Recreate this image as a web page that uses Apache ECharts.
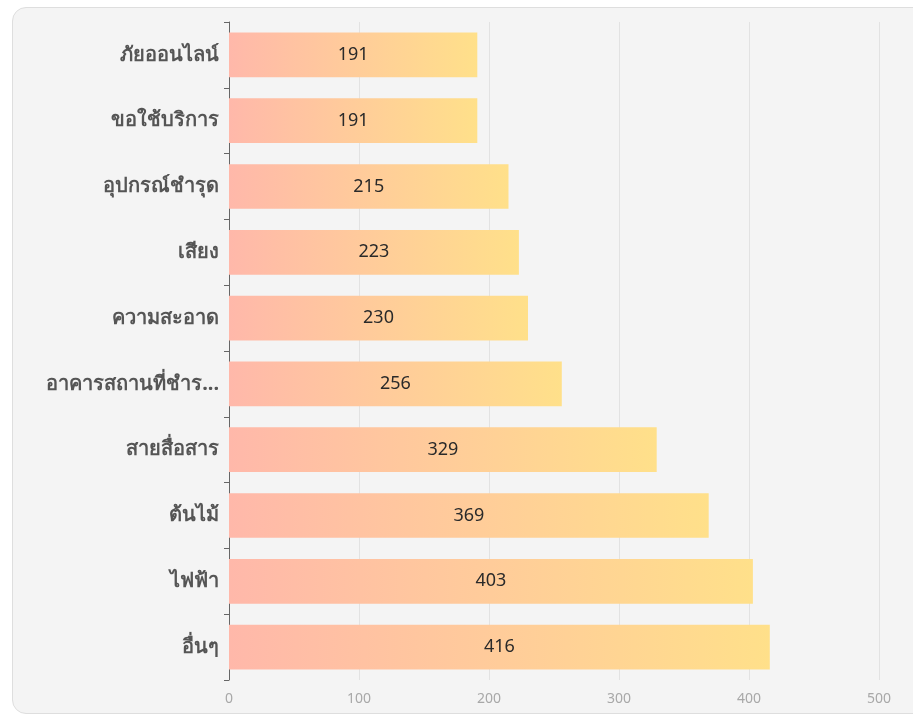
<!DOCTYPE html>
<html><head><meta charset="utf-8">
<script src="https://cdn.jsdelivr.net/npm/echarts@6/dist/echarts.min.js"></script>
<style>
html,body{margin:0;padding:0;background:#ffffff;width:913px;height:716px;overflow:hidden;}
#card{position:absolute;left:12px;top:7px;width:920px;height:707px;background:#f4f4f4;border:1px solid #dedede;border-radius:14px;box-sizing:border-box;}
#chart{position:absolute;left:0;top:0;width:913px;height:716px;}
</style></head>
<body>
<div id="card"></div>
<div id="chart"></div>
<script>
const categories = ['ภัยออนไลน์','ขอใช้บริการ','อุปกรณ์ชำรุด','เสียง','ความสะอาด','อาคารสถานที่ชำรุด','สายสื่อสาร','ต้นไม้','ไฟฟ้า','อื่นๆ'];
const values = [191,191,215,223,230,256,329,369,403,416];
const xTicks = [0,100,200,300,400,500];

const chart = echarts.init(document.getElementById('chart'));
chart.setOption({
  backgroundColor: 'transparent',
  animation: false,
  grid: {left: 229, right: 34, top: 22, bottom: 36},
  xAxis: {
    type: 'value', min: xTicks[0], max: xTicks[xTicks.length-1], interval: 100,
    axisLine: {show: false}, axisTick: {show: false},
    axisLabel: {color: '#a8a8a8', fontSize: 14, fontFamily: 'Noto Sans', margin: 12},
    splitLine: {show: true, lineStyle: {color: '#e2e2e2', width: 1}}
  },
  yAxis: {
    type: 'category', data: categories, inverse: true,
    axisLine: {show: true, lineStyle: {color: '#666666', width: 1}},
    axisTick: {show: true, length: 5, lineStyle: {color: '#666666'}},
    axisLabel: {
      color: '#555555', fontSize: 20, fontWeight: 'bold', fontFamily: 'Noto Sans', margin: 10,
      formatter: function (v) { return v.length > 15 ? v.slice(0, 15) + '...' : v; }
    }
  },
  series: [{
    type: 'bar', data: values, barWidth: '68%',
    itemStyle: {
      color: new echarts.graphic.LinearGradient(0, 0, 1, 0, [
        {offset: 0, color: '#ffb8aa'},
        {offset: 1, color: '#ffe08a'}
      ])
    },
    label: {show: true, position: 'inside', color: '#2a2a2a', fontSize: 18, fontFamily: 'Noto Sans'}
  }]
});
</script>
</body></html>
